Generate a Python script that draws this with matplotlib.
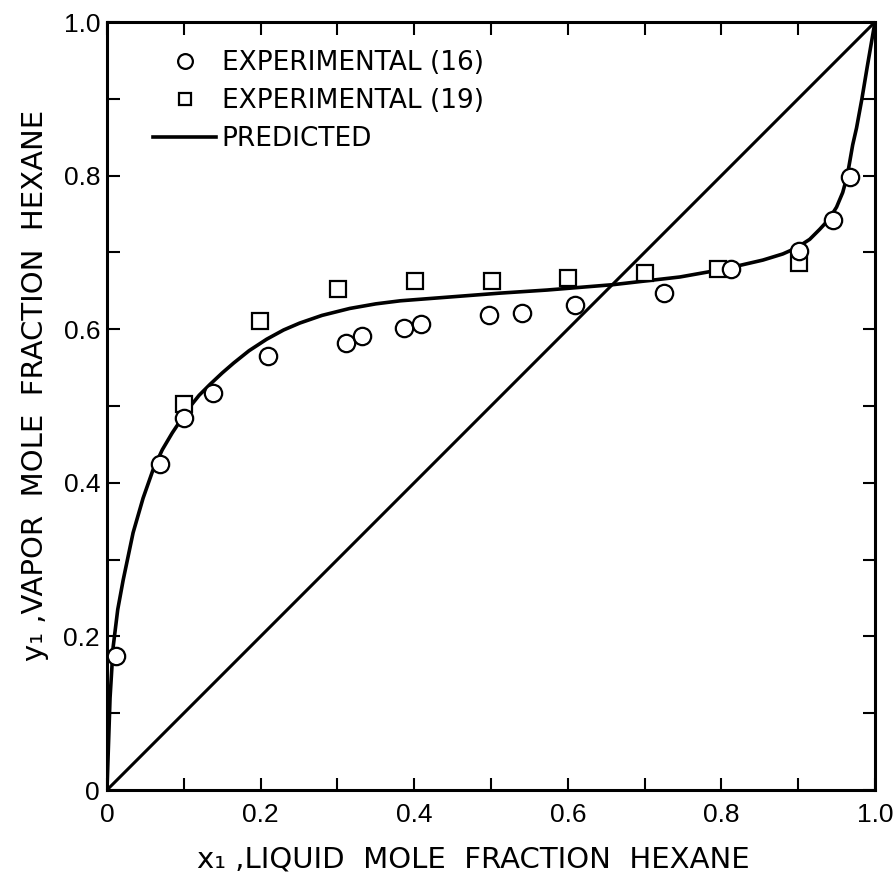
import numpy as np
import matplotlib.pyplot as plt
from matplotlib.ticker import MultipleLocator, FuncFormatter

# vapour-liquid equilibrium data, hexane mole fractions
x_exp16 = [0.012, 0.069, 0.100, 0.138, 0.210, 0.311, 0.332, 0.387, 0.409,
           0.497, 0.540, 0.609, 0.725, 0.812, 0.901, 0.945, 0.967]
y_exp16 = [0.174, 0.424, 0.484, 0.517, 0.565, 0.582, 0.591, 0.602, 0.607,
           0.618, 0.621, 0.631, 0.647, 0.678, 0.702, 0.742, 0.798]

x_exp19 = [0.100, 0.199, 0.301, 0.401, 0.501, 0.600, 0.700, 0.796, 0.901]
y_exp19 = [0.503, 0.611, 0.652, 0.663, 0.663, 0.667, 0.673, 0.678, 0.686]

x_pred = [0.0, 0.002, 0.004, 0.008, 0.014, 0.021, 0.034, 0.047, 0.060, 0.072,
          0.085, 0.097, 0.108, 0.120, 0.134, 0.150, 0.165, 0.185, 0.208, 0.230,
          0.251, 0.280, 0.316, 0.350, 0.382, 0.447, 0.512, 0.573, 0.659, 0.746,
          0.802, 0.854, 0.880, 0.898, 0.915, 0.928, 0.940, 0.950, 0.958, 0.964,
          0.971, 0.976, 0.983, 0.990, 1.0]
y_pred = [0.0, 0.060, 0.120, 0.186, 0.235, 0.273, 0.335, 0.380, 0.417, 0.443,
          0.465, 0.483, 0.499, 0.514, 0.528, 0.543, 0.556, 0.572, 0.587, 0.599,
          0.608, 0.618, 0.627, 0.633, 0.637, 0.642, 0.647, 0.651, 0.658, 0.668,
          0.678, 0.690, 0.698, 0.706, 0.717, 0.730, 0.743, 0.759, 0.778, 0.800,
          0.840, 0.862, 0.900, 0.942, 1.0]

diag = [0.0, 1.0]

tick_font = ['Liberation Sans', 'DejaVu Sans']

fig = plt.figure(figsize=(8.93, 8.77), dpi=100)
ax = fig.add_axes([0.1198, 0.0992, 0.8600, 0.8757])

ax.plot(diag, diag, color='black', lw=2.2, zorder=2)
ax.plot(x_pred, y_pred, color='black', lw=2.6, zorder=3,
        solid_joinstyle='round', label='PREDICTED')
ax.plot(x_exp19, y_exp19, ls='none', marker='s', ms=11, mew=1.6,
        mfc='white', mec='black', zorder=4, label='EXPERIMENTAL (19)')
ax.plot(x_exp16, y_exp16, ls='none', marker='o', ms=12.5, mew=1.6,
        mfc='white', mec='black', zorder=5, label='EXPERIMENTAL (16)')

ax.set_xlim(0, 1)
ax.set_ylim(0, 1)

for s in ax.spines.values():
    s.set_linewidth(2.2)

ax.xaxis.set_major_locator(MultipleLocator(0.2))
ax.yaxis.set_major_locator(MultipleLocator(0.2))
ax.xaxis.set_minor_locator(MultipleLocator(0.1))
ax.yaxis.set_minor_locator(MultipleLocator(0.1))
fmt = FuncFormatter(lambda v, pos: '0' if abs(v) < 1e-9 else f'{v:.1f}')
ax.xaxis.set_major_formatter(fmt)
ax.yaxis.set_major_formatter(fmt)
ax.tick_params(which='both', direction='in', top=True, right=True,
               length=9, width=1.5)
ax.tick_params(axis='x', which='major', pad=9)
ax.tick_params(axis='y', which='major', pad=5)
for lab in ax.get_xticklabels() + ax.get_yticklabels():
    lab.set_family(tick_font)
    lab.set_fontsize(19)

ax.set_xlabel('x\u2081 ,LIQUID  MOLE  FRACTION  HEXANE', fontsize=21)
ax.set_ylabel('y\u2081 ,VAPOR  MOLE  FRACTION  HEXANE', fontsize=21)
ax.xaxis.set_label_coords(0.477, -0.090)
ax.yaxis.set_label_coords(-0.094, 0.527)
ax.xaxis.label.set_va('center')
ax.yaxis.label.set_va('center')

handles, labels = ax.get_legend_handles_labels()
order = [2, 1, 0]
ax.legend([handles[i] for i in order], [labels[i] for i in order],
          loc='upper left', bbox_to_anchor=(0.060, 0.963), frameon=False,
          fontsize=19, handlelength=2.4, handletextpad=0.2,
          labelspacing=0.45, borderpad=0, borderaxespad=0, markerscale=0.85)

fig.savefig('out.png', dpi=100, facecolor='white')
